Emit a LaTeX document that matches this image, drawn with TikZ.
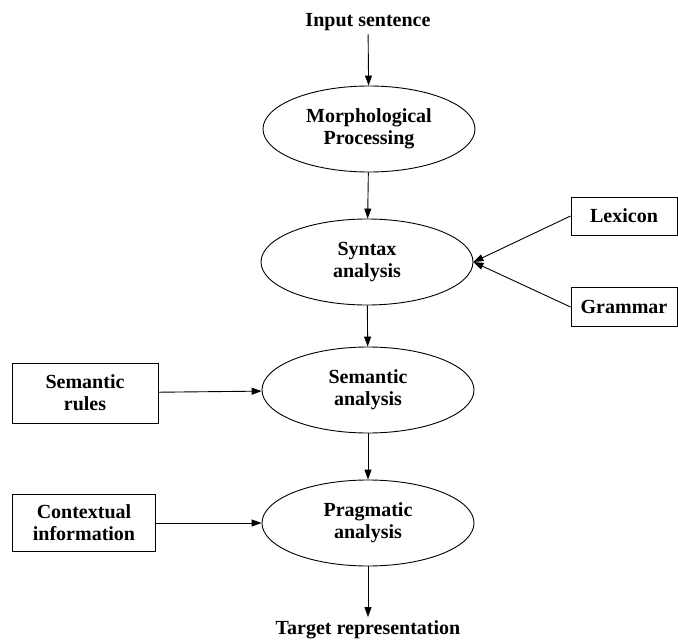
\documentclass[tikz,border=0pt]{standalone}
\usepackage{fontspec}
\setmainfont{Liberation Serif}
\usetikzlibrary{shapes,arrows,positioning,arrows.meta}

\begin{document}
\begin{tikzpicture}[node distance=130pt, >={Triangle[length=10pt,width=7pt]}, line width=0.9pt,
    every node/.style={font=\fontsize{20}{22}\selectfont\bfseries, align=center},
    stage/.style={draw, ellipse, minimum width=212pt, minimum height=86pt},
    source/.style={draw, rectangle}]
    \useasboundingbox (0,0) rectangle (678pt,-642pt);

    \node (input) at (368pt,-22pt) {Input sentence};

    \node (morph) [stage, below of=input, yshift=23pt, xshift=1pt] {Morphological\\Processing};
    \node (syntax) [stage, below of=morph, yshift=-3pt, xshift=-2pt] {Syntax\\analysis};
    \node (semantic) [stage, below of=syntax, yshift=2pt, xshift=1pt] {Semantic\\analysis};
    \node (pragmatic) [stage, below of=semantic, yshift=-3pt] {Pragmatic\\analysis};
    \node (target) [below of=pragmatic, yshift=23pt] {Target representation};

    \node (lexicon) [source, right of=syntax, xshift=127pt, yshift=46pt, minimum width=106pt, minimum height=38pt] {Lexicon};
    \node (grammar) [source, right of=syntax, xshift=127pt, yshift=-45pt, minimum width=106pt, minimum height=39pt] {Grammar};
    \node (rules) [source, left of=semantic, xshift=-153pt, yshift=-3pt, minimum width=146pt, minimum height=60pt] {Semantic\\rules};
    \node (context) [source, left of=pragmatic, xshift=-154pt, minimum width=143pt, minimum height=57pt] {Contextual\\information};

    \draw[->] (input) -- (morph);
    \draw[->] (morph) -- (syntax);
    \draw[->] (syntax) -- (semantic);
    \draw[->] (semantic) -- (pragmatic);
    \draw[->] (pragmatic) -- (target);

    \draw[->] (lexicon.west) -- (syntax.east);
    \draw[->] (grammar.west) -- (syntax.east);
    \draw[->] (rules) -- (semantic);
    \draw[->] (context) -- (pragmatic);

\end{tikzpicture}
\end{document}
